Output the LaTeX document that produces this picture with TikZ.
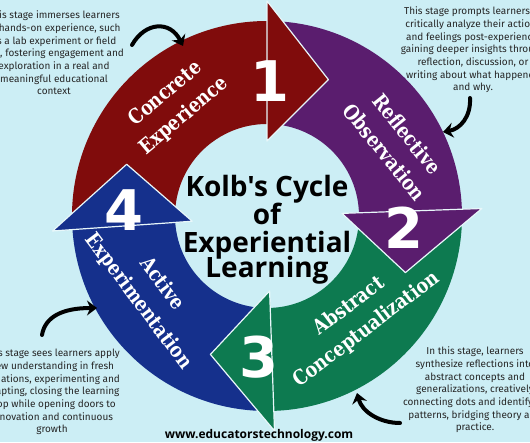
\documentclass[tikz,border=0pt]{standalone}
\usepackage{fontspec}
\setmainfont{Open Sans}
\newfontfamily\titlefont{Open Sans}
\newfontfamily\slabfont{DejaVu Serif}[FakeStretch=0.85]
\newfontfamily\numfont{DejaVu Sans}
\newfontfamily\descfont{Fira Sans}
\usetikzlibrary{arrows.meta,calc}
\definecolor{bgc}{HTML}{CCEEF5}
\definecolor{kred}{HTML}{800C0C}
\definecolor{kpurple}{HTML}{5A1D6E}
\definecolor{kgreen}{HTML}{0D7A50}
\definecolor{kblue}{HTML}{15308C}
\tikzset{
 stagelabel/.style={text=white, font=\slabfont\bfseries\fontsize{20.5}{29}\selectfont, align=center, inner sep=0pt},
 stagenum/.style={text=white, font=\numfont\bfseries\fontsize{56}{56}\selectfont, inner sep=0pt},
 titleline/.style={font=\titlefont\bfseries\fontsize{28}{28}\selectfont, anchor=base, inner sep=0pt},
 desc/.style={font=\descfont\fontsize{10}{12.7}\selectfont, align=center, inner sep=0pt, text=black!85},
 pointer/.style={line width=4pt, -{Stealth[length=10pt,width=15pt]}, line cap=round},
 headline/.style={draw=white!55!bgc, line width=1.2pt, line join=round}
}
\newcommand\kolbshaft[3]{%
 \fill[#1] ($(C)+(#2:195)$) arc[start angle=#2, end angle=#3, radius=195]
   -- ($(C)+(#3:92)$) arc[start angle=#3, end angle=#2, radius=92] -- cycle;}
\newcommand\kolbhead[2]{%
 \filldraw[fill=#1, headline] ($(C)+(#2:75)$) -- ($(C)+(#2:215)$)
   -- ($(C)+(#2:145)+(#2-98:62)$) -- cycle;}
\begin{document}
\begin{tikzpicture}[x=1pt,y=1pt]
\fill[bgc] (0,0) rectangle (530,442);
\useasboundingbox (0,0) rectangle (530,442);
\clip (0,0) rectangle (530,442);
\coordinate (C) at (267,226);
% shafts
\kolbshaft{kred}{182}{90}
\kolbshaft{kpurple}{88}{2}
\kolbshaft{kgreen}{0}{-88}
\kolbshaft{kblue}{270}{184}
% heads
\kolbhead{kred}{90}
\kolbhead{kpurple}{2}
\kolbhead{kgreen}{-88}
\kolbhead{kblue}{184}
% stage labels
\node[stagelabel, rotate=40] (lab1) at (175,337) {Concrete\\Experience};
\node[stagelabel, rotate=-51] (lab2) at (396,299) {Reflective\\Observation};
\node[stagelabel, rotate=37] (lab3) at (358,124) {Abstract\\Conceptualization};
\node[stagelabel, rotate=-53] (lab4) at (150,149) {Active\\Experimentation};
% numbers
\node[stagenum] (n1) at (270,361) {1};
\node[stagenum] (n2) at (404,214) {2};
\node[stagenum] (n3) at (259,85) {3};
\node[stagenum] (n4) at (124,232) {4};
% title
\node[titleline] (t1) at (267,245) {Kolb's Cycle};
\node[titleline] (t2) at (267,217) {of};
\node[titleline] (t3) at (267,189) {Experiential};
\node[titleline] (t4) at (267,164) {Learning};
% website
\node[font=\titlefont\bfseries\fontsize{12}{12}\selectfont, anchor=base, inner sep=0pt] (web) at (259,4) {www.educatorstechnology.com};
% descriptions
\node[desc] (d1) at (54,389) {This stage immerses learners\\in hands-on experience, such\\as a lab experiment or field\\trip, fostering engagement and\\exploration in a real and\\meaningful educational\\context};
\node[desc] (d2) at (473,392) {This stage prompts learners to\\critically analyze their actions\\and feelings post-experience,\\gaining deeper insights through\\reflection, discussion, or\\writing about what happened\\and why.};
\node[desc] (d4) at (52,50) {This stage sees learners apply\\new understanding in fresh\\situations, experimenting and\\adapting, closing the learning\\loop while opening doors to\\innovation and continuous\\growth};
\node[desc] (d3) at (475,52) {In this stage, learners\\synthesize reflections into\\abstract concepts and\\generalizations, creatively\\connecting dots and identifying\\patterns, bridging theory and\\practice.};
% pointer arrows
\coordinate (p1s) at (132,397); \coordinate (p1e) at (183,396);
\coordinate (p2s) at (470,344); \coordinate (p2e) at (443,310);
\coordinate (p3s) at (42,107);  \coordinate (p3e) at (97,134);
\coordinate (p4s) at (400,19);  \coordinate (p4e) at (357,49);
\draw[pointer] (p1s) .. controls (145,420) and (170,422) .. (p1e);
\draw[pointer] (p2s) .. controls (471,325) and (460,313) .. (p2e);
\draw[pointer] (p3s) .. controls (45,125) and (62,134) .. (p3e);
\draw[pointer] (p4s) .. controls (380,19) and (362,30) .. (p4e);
\end{tikzpicture}
\end{document}
